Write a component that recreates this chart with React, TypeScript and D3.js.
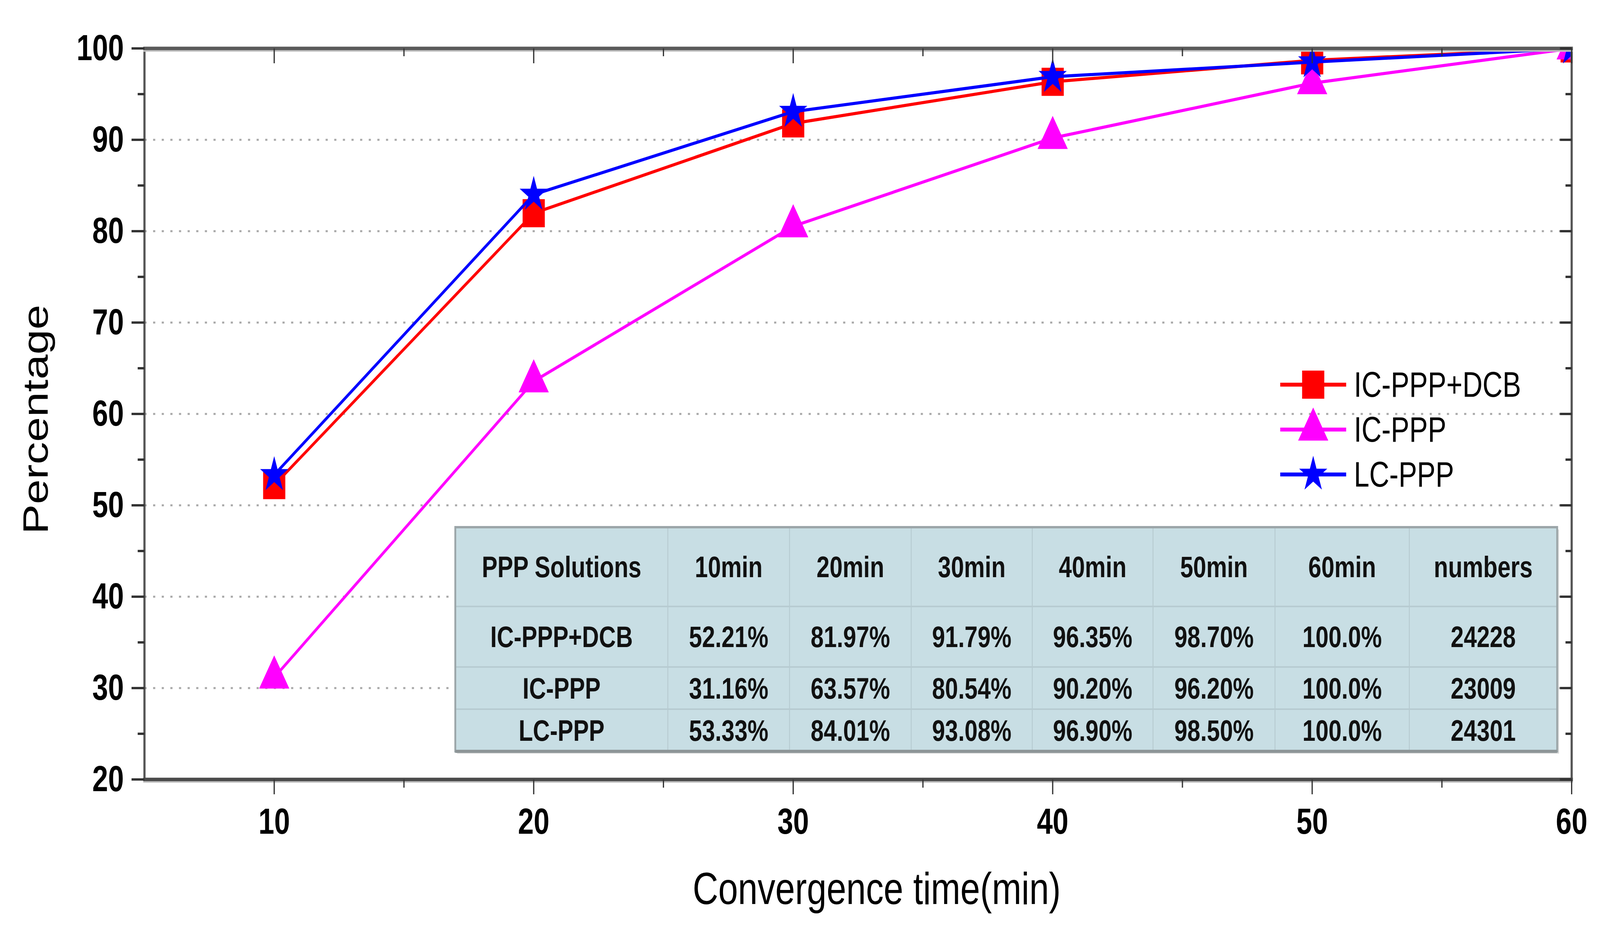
import * as d3 from "d3"

// convergence percentages per solution, at each convergence time
const times = [10, 20, 30, 40, 50, 60]
const icPppDcb = [52.21, 81.97, 91.79, 96.35, 98.7, 100.0]
const icPpp = [31.16, 63.57, 80.54, 90.2, 96.2, 100.0]
const lcPpp = [53.33, 84.01, 93.08, 96.9, 98.5, 100.0]
const seriesNames = ["IC-PPP+DCB", "IC-PPP", "LC-PPP"]
const sampleCounts = ["24228", "23009", "24301"]
const tableHead = ["PPP Solutions", "10min", "20min", "30min", "40min", "50min", "60min", "numbers"]

const W = 5194, H = 2402
const FONT = "'Liberation Sans', Arial, Helvetica, sans-serif"

const SERIES = [
  { name: seriesNames[0], values: icPppDcb, color: "#ff0000", symbol: d3.symbolSquare, size: 72 * 72 },
  { name: seriesNames[1], values: icPpp, color: "#ff00ff", symbol: d3.symbolTriangle, size: 4160 },
  { name: seriesNames[2], values: lcPpp, color: "#0000ff", symbol: d3.symbolStar, size: 2590 },
]

const fmtPct = (v: number) => (v === 100 ? "100.0%" : v.toFixed(2) + "%")

export default function App() {
  const x = d3.scaleLinear().domain([5, 60]).range([469, 5102])
  const y = d3.scaleLinear().domain([20, 100]).range([1996, 124])
  const [x0, x1] = x.range()
  const [y0, y1] = y.range()

  const yMajor = d3.range(20, 101, 10)
  const yMinor = d3.range(25, 100, 10)
  const xMajor = x.ticks(6)
  const xMinor = d3.range(15, 60, 10)
  const grid = d3.range(30, 100, 10)

  const line = d3.line<number>().x((_, i) => x(times[i])).y(d => y(d))

  // table layout
  const colW = [690, 395, 395, 393, 392, 396, 436, 480]
  const rowH = [203, 155, 108, 108]
  const tx0 = 1478, ty0 = 1350
  const colX = [tx0, ...d3.cumsum(colW).map(c => tx0 + c)]
  const rowY = [ty0, ...d3.cumsum(rowH).map(c => ty0 + c)]
  const tableRows = [
    tableHead,
    ...SERIES.map((s, i) => [s.name, ...s.values.map(fmtPct), sampleCounts[i]]),
  ]

  // legend
  const legX = 4156, legLen = 214
  const legY = [985, 1100, 1215]

  return (
    <svg viewBox={`0 0 ${W} ${H}`} preserveAspectRatio="none"
      style={{ position: "fixed", left: 0, top: 0, width: "100vw", height: "100vh", background: "#fff", fontFamily: FONT }}>
      <defs>
        <clipPath id="plot">
          <rect x={x0} y={y1} width={x1 - x0} height={y0 - y1} />
        </clipPath>
      </defs>

      {/* grid */}
      {grid.map(g => (
        <line key={g} x1={x0} x2={x1} y1={y(g)} y2={y(g)}
          stroke="#a8a8a8" strokeWidth={5} strokeDasharray="7 21" />
      ))}

      {/* table */}
      <g>
        <rect x={colX[0] + 6} y={rowY[0] + 6} width={colX[8] - colX[0]} height={rowY[4] - rowY[0]} fill="#dcdcdc" />
        <rect x={colX[0]} y={rowY[0]} width={colX[8] - colX[0]} height={rowY[4] - rowY[0]} fill="#c8dee4" />
        {colX.slice(1, -1).map((cx, i) => (
          <line key={"c" + i} x1={cx} x2={cx} y1={rowY[0]} y2={rowY[4]} stroke="#b7cbd1" strokeWidth={3} />
        ))}
        {rowY.slice(1, -1).map((ry, i) => (
          <line key={"r" + i} x1={colX[0]} x2={colX[8]} y1={ry} y2={ry} stroke="#b7cbd1" strokeWidth={4} />
        ))}
        <rect x={colX[0]} y={rowY[0]} width={colX[8] - colX[0]} height={rowY[4] - rowY[0]}
          fill="none" stroke="#9ca6a9" strokeWidth={6} />
        <line x1={colX[0]} x2={colX[8]} y1={rowY[4]} y2={rowY[4]} stroke="#8d9597" strokeWidth={8} />
        {tableRows.map((row, r) =>
          row.map((txt, c) => (
            <text key={r + "-" + c} x={(colX[c] + colX[c + 1]) / 2} y={(rowY[r] + rowY[r + 1]) / 2 + 27}
              textAnchor="middle" fontSize={76} fontWeight="bold" fill="#111">{txt}</text>
          ))
        )}
      </g>

      {/* series */}
      <g clipPath="url(#plot)">
        {SERIES.map(s => (
          <g key={s.name}>
            <path d={line(s.values) ?? ""} fill="none" stroke={s.color} strokeWidth={8} strokeLinejoin="round" />
            {s.values.map((v, i) => (
              <path key={i} transform={`translate(${x(times[i])},${y(v)})`}
                d={d3.symbol().type(s.symbol).size(s.size)() ?? ""} fill={s.color} />
            ))}
          </g>
        ))}
      </g>

      {/* legend */}
      {SERIES.map((s, i) => (
        <g key={s.name} transform={`translate(${legX},${legY[i]})`}>
          <line x1={0} x2={legLen} stroke={s.color} strokeWidth={10} />
          <path transform={`translate(${legLen / 2},0)`} d={d3.symbol().type(s.symbol).size(s.size)() ?? ""} fill={s.color} />
          <text x={legLen + 25} y={31} fontSize={90} fill="#000">{s.name}</text>
        </g>
      ))}

      {/* axes frame */}
      <line x1={x0} x2={x0} y1={y1} y2={y0} stroke="#555" strokeWidth={7} />
      <line x1={x1} x2={x1} y1={y1} y2={y0} stroke="#555" strokeWidth={7} />
      <line x1={x0 - 4} x2={x1 + 4} y1={y0 + 6} y2={y0 + 6} stroke="#c4c4c4" strokeWidth={5} />
      <line x1={x0 - 4} x2={x1 + 4} y1={y1 + 6} y2={y1 + 6} stroke="#c4c4c4" strokeWidth={5} />
      <line x1={x0 - 4} x2={x1 + 4} y1={y0} y2={y0} stroke="#4a4a4a" strokeWidth={9} />
      <line x1={x0 - 4} x2={x1 + 4} y1={y1} y2={y1} stroke="#5a5a5a" strokeWidth={9} />

      {/* y ticks */}
      {yMajor.map(t => (
        <g key={"ym" + t}>
          <line x1={x0 - 42} x2={x0} y1={y(t)} y2={y(t)} stroke="#333" strokeWidth={6} />
          <line x1={x1 - 38} x2={x1} y1={y(t)} y2={y(t)} stroke="#333" strokeWidth={6} />
          <text x={402} y={y(t) + 30} textAnchor="end" fontSize={92} fontWeight="bold" fill="#000">{t}</text>
        </g>
      ))}
      {yMinor.map(t => (
        <g key={"yn" + t}>
          <line x1={x0 - 22} x2={x0} y1={y(t)} y2={y(t)} stroke="#333" strokeWidth={6} />
          <line x1={x1 - 20} x2={x1} y1={y(t)} y2={y(t)} stroke="#333" strokeWidth={6} />
        </g>
      ))}

      {/* x ticks */}
      {xMajor.map(t => (
        <g key={"xm" + t}>
          <line x1={x(t)} x2={x(t)} y1={y0} y2={y0 + 38} stroke="#333" strokeWidth={4} />
          <line x1={x(t)} x2={x(t)} y1={y1} y2={y1 + 38} stroke="#333" strokeWidth={4} />
          <text x={x(t)} y={2135} textAnchor="middle" fontSize={92} fontWeight="bold" fill="#000">{t}</text>
        </g>
      ))}
      {xMinor.map(t => (
        <g key={"xn" + t}>
          <line x1={x(t)} x2={x(t)} y1={y0} y2={y0 + 21} stroke="#333" strokeWidth={4} />
          <line x1={x(t)} x2={x(t)} y1={y1} y2={y1 + 20} stroke="#333" strokeWidth={4} />
        </g>
      ))}

      {/* axis titles */}
      <text x={2846} y={2315} textAnchor="middle" fontSize={115} fill="#000">Convergence time(min)</text>
      <text transform={`translate(155,1074) rotate(-90)`} textAnchor="middle" fontSize={115} fill="#000">Percentage</text>
    </svg>
  )
}
